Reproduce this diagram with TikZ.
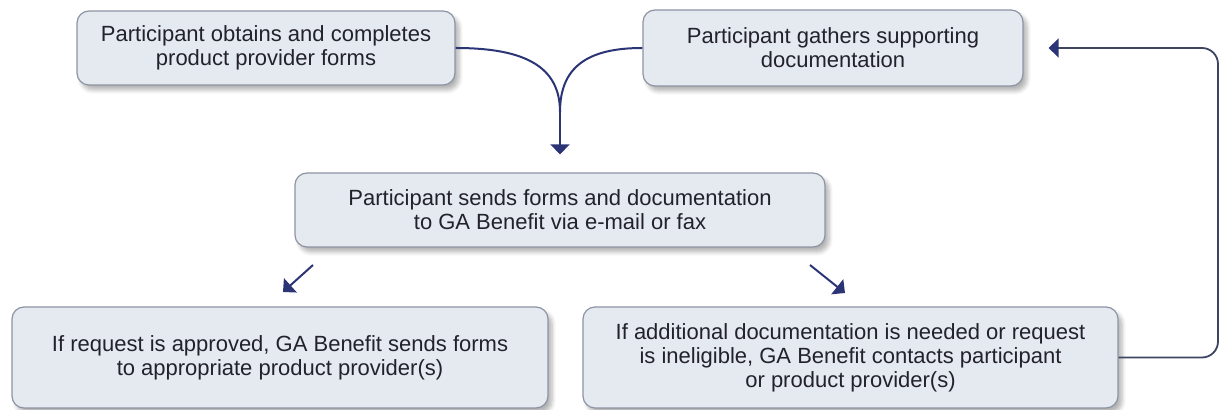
\documentclass[tikz,border=0pt]{standalone}
\usepackage{fontspec}
\setmainfont{Liberation Sans}
\usetikzlibrary{arrows.meta,shadows.blur}

\definecolor{boite}{HTML}{E5E9F0}
\definecolor{bord}{HTML}{8C93A3}
\definecolor{marine}{HTML}{2B3576}
\definecolor{retour}{HTML}{3E4560}
\definecolor{texte}{HTML}{22222C}

\tikzset{ etape/.style 2 args={draw=bord, fill=boite, rounded corners=6pt, line width=.6pt,
    minimum width=#1, minimum height=#2, inner sep=0pt, align=center, text=texte,
    font=\fontsize{11}{12}\selectfont,
    blur shadow={shadow xshift=2pt, shadow yshift=-2.5pt, shadow blur steps=6, shadow opacity=30}},
  fleche/.style={draw=marine, line width=1pt, -{Triangle[width=9.5pt,length=5pt,color=marine]}} }

\begin{document}
\begin{tikzpicture}[x=.5pt, y=-.5pt]
  \useasboundingbox (0,0) rectangle (1221,410);
  \node[etape={189pt}{37pt}] (formes) at (266,48) {Participant obtains and completes\\product provider forms};
  \node[etape={190pt}{38pt}] (pieces) at (833,48) {Participant gathers supporting\\documentation};
  \node[etape={265pt}{37pt}] (envoi) at (560,210) {Participant sends forms and documentation\\to GA Benefit via e-mail or fax};
  \node[etape={268pt}{50.5pt}] (accord) at (280,357.5) {If request is approved, GA Benefit sends forms\\to appropriate product provider(s)};
  \node[etape={267.5pt}{50.5pt}] (relance) at (850.5,357.5) {If additional documentation is needed or request\\is ineligible, GA Benefit contacts participant\\or product provider(s)};

  % les deux branches se rejoignent
  \coordinate (jonction) at (560,112);
  \draw[marine, line width=1pt] (formes.east) .. controls +(70,0) and +(0,-45) .. (jonction);
  \draw[marine, line width=1pt] (pieces.west) .. controls +(-55,0) and +(0,-45) .. (jonction);
  \draw[fleche] (jonction) -- ([yshift=9pt]envoi.north);

  \coordinate (g1) at (313,265);
  \coordinate (g2) at (283,292);
  \coordinate (d1) at (810,265);
  \coordinate (d2) at (845,293);
  \draw[fleche] (g1) -- (g2);
  \draw[fleche] (d1) -- (d2);

  % retour vers les pieces justificatives
  \draw[fleche, draw=retour, line width=.9pt, rounded corners=8pt] (relance.east) -| (1218,48) -- ([xshift=12.5pt]pieces.east);
\end{tikzpicture}
\end{document}
